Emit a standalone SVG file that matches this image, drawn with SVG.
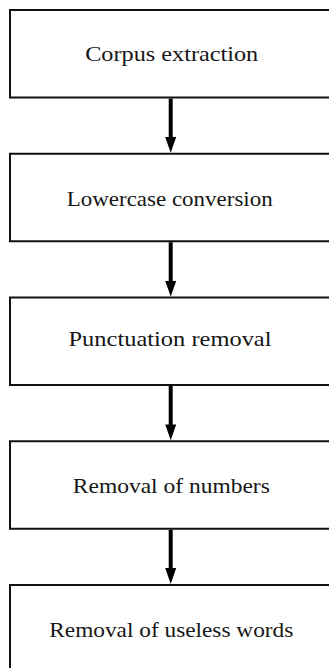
<svg xmlns="http://www.w3.org/2000/svg" width="329" height="668" viewBox="0 0 329 668">
<style>
.box{fill:#fff;stroke:#111;stroke-width:2}
.lbl{font-family:"Liberation Serif","Times New Roman",serif;font-size:21.5px;fill:#161616;text-anchor:middle}
.shaft{stroke:#000;stroke-width:4;fill:none}
.head{fill:#000}
</style>
<rect width="329" height="668" fill="#fff"/>
<g id="connectors">
<line class="shaft" x1="170.7" y1="98.5" x2="170.7" y2="138"/><polygon class="head" points="165.2,137 176.2,137 170.7,152.7"/>
<line class="shaft" x1="170.7" y1="242.2" x2="170.7" y2="282"/><polygon class="head" points="165.2,281 176.2,281 170.7,296.5"/>
<line class="shaft" x1="170.7" y1="386" x2="170.7" y2="425.5"/><polygon class="head" points="165.2,424.5 176.2,424.5 170.7,440.2"/>
<line class="shaft" x1="170.7" y1="529.7" x2="170.7" y2="569"/><polygon class="head" points="165.2,568 176.2,568 170.7,584"/>
</g>
<g id="n1"><rect class="box" x="10" y="10" width="322" height="87.5"/><text class="lbl" x="171.7" y="61.2" textLength="173" lengthAdjust="spacingAndGlyphs">Corpus extraction</text></g>
<g id="n2"><rect class="box" x="10" y="153.75" width="322" height="87.5"/><text class="lbl" x="169.7" y="205.9" textLength="206" lengthAdjust="spacingAndGlyphs">Lowercase conversion</text></g>
<g id="n3"><rect class="box" x="10" y="297.5" width="322" height="87.5"/><text class="lbl" x="170" y="346.4" textLength="203" lengthAdjust="spacingAndGlyphs">Punctuation removal</text></g>
<g id="n4"><rect class="box" x="10" y="441.25" width="322" height="87.5"/><text class="lbl" x="171.3" y="492.9" textLength="197" lengthAdjust="spacingAndGlyphs">Removal of numbers</text></g>
<g id="n5"><rect class="box" x="10" y="585" width="322" height="87.5"/><text class="lbl" x="171.3" y="637" textLength="244" lengthAdjust="spacingAndGlyphs">Removal of useless words</text></g>
</svg>
